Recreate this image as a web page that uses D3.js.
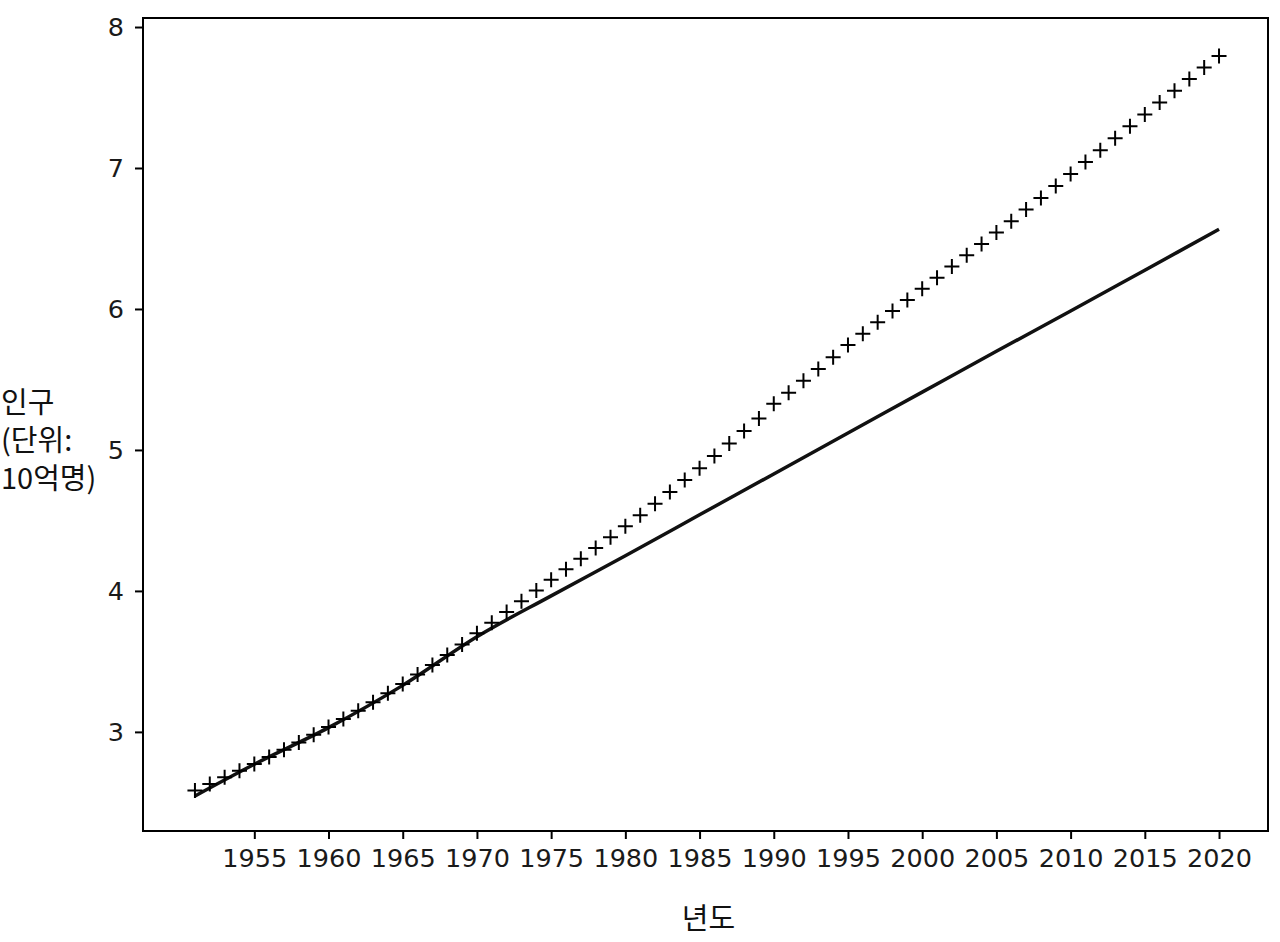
<!DOCTYPE html>
<html>
<head>
<meta charset="utf-8">
<script src="https://cdn.jsdelivr.net/npm/d3@7"></script>
<style>
  html, body { margin: 0; padding: 0; background: #fff; }
  svg { display: block; }
</style>
</head>
<body>
<svg id="chart" width="1280" height="942"></svg>
<script>
// World population (billions), observed, 1951-2020
const years = d3.range(1951, 2021);
const population = [
  2.584, 2.631, 2.678, 2.725, 2.773, 2.822, 2.873, 2.925, 2.979, 3.035,
  3.091, 3.150, 3.211, 3.274, 3.340, 3.407, 3.475, 3.546, 3.620, 3.700,
  3.775, 3.851, 3.927, 4.003, 4.079, 4.154, 4.229, 4.304, 4.380, 4.458,
  4.537, 4.618, 4.701, 4.786, 4.871, 4.957, 5.045, 5.134, 5.223, 5.327,
  5.406, 5.491, 5.575, 5.658, 5.744, 5.824, 5.905, 5.985, 6.064, 6.143,
  6.222, 6.301, 6.381, 6.461, 6.542, 6.623, 6.705, 6.788, 6.872, 6.957,
  7.042, 7.126, 7.211, 7.296, 7.380, 7.464, 7.548, 7.631, 7.713, 7.795
];
// Model line
const lineYears = [1951, 1955, 1960, 1965, 1970, 1975, 1980, 1985, 1990, 1995, 2000, 2005, 2010, 2015, 2020];
const lineValues = [2.545, 2.77, 3.03, 3.33, 3.675, 3.965, 4.25, 4.54, 4.83, 5.12, 5.41, 5.70, 5.985, 6.275, 6.565];
const xTicks = [1955, 1960, 1965, 1970, 1975, 1980, 1985, 1990, 1995, 2000, 2005, 2010, 2015, 2020];
const yTicks = [3, 4, 5, 6, 7, 8];
const xLabel = "년도";
const yLabelLines = ["인구", "(단위:", "10억명)"];

const svg = d3.select("#chart");
const pLeft = 143, pRight = 1268, pTop = 18, pBottom = 831;

const x = d3.scaleLinear().domain([1947.5, 2023.3]).range([pLeft, pRight]);
const y = d3.scaleLinear().domain([2.297, 8.064]).range([pBottom, pTop]);

// Model line
svg.append("path")
  .datum(lineYears.map((yr, i) => [yr, lineValues[i]]))
  .attr("fill", "none")
  .attr("stroke", "#111")
  .attr("stroke-width", 3.5)
  .attr("d", d3.line().x(d => x(d[0])).y(d => y(d[1])).curve(d3.curveMonotoneX));

// Plus markers
svg.append("g").selectAll("path")
  .data(years.map((yr, i) => [yr, population[i]]))
  .join("path")
  .attr("transform", d => `translate(${x(d[0])},${y(d[1])})`)
  .attr("d", "M-7.5,0H7.5M0,-7.5V7.5")
  .attr("stroke", "#000")
  .attr("stroke-width", 2)
  .attr("fill", "none");

// Axes
const xAxis = d3.axisBottom(x).tickValues(xTicks).tickFormat(d3.format("d")).tickSize(8).tickPadding(10);
const yAxis = d3.axisLeft(y).tickValues(yTicks).tickFormat(d3.format("d")).tickSize(8).tickPadding(11);

const gx = svg.append("g").attr("transform", `translate(0,${pBottom})`).call(xAxis);
const gy = svg.append("g").attr("transform", `translate(${pLeft},0)`).call(yAxis);
[gx, gy].forEach(g => {
  g.select(".domain").remove();
  g.selectAll(".tick line").attr("stroke", "#000").attr("stroke-width", 2);
  g.selectAll(".tick text")
    .attr("fill", "#1a1a1a")
    .style("font-family", "'DejaVu Sans', sans-serif")
    .style("font-size", "25.5px");
});

// Frame
svg.append("rect")
  .attr("x", pLeft).attr("y", pTop)
  .attr("width", pRight - pLeft).attr("height", pBottom - pTop)
  .attr("fill", "none").attr("stroke", "#000").attr("stroke-width", 2);

// Axis labels
svg.append("text")
  .attr("x", (pLeft + pRight) / 2 + 3)
  .attr("y", 929)
  .attr("text-anchor", "middle")
  .style("font-family", "'Noto Sans CJK KR', sans-serif")
  .style("font-size", "29px")
  .attr("fill", "#111")
  .text(xLabel);

const yl = svg.append("text")
  .attr("x", 1)
  .attr("y", 413)
  .style("font-family", "'Noto Sans CJK KR', sans-serif")
  .style("font-size", "29px")
  .attr("fill", "#111");
yLabelLines.forEach((t, i) => {
  yl.append("tspan").attr("x", 1).attr("dy", i === 0 ? 0 : 38).text(t);
});
</script>
</body>
</html>
